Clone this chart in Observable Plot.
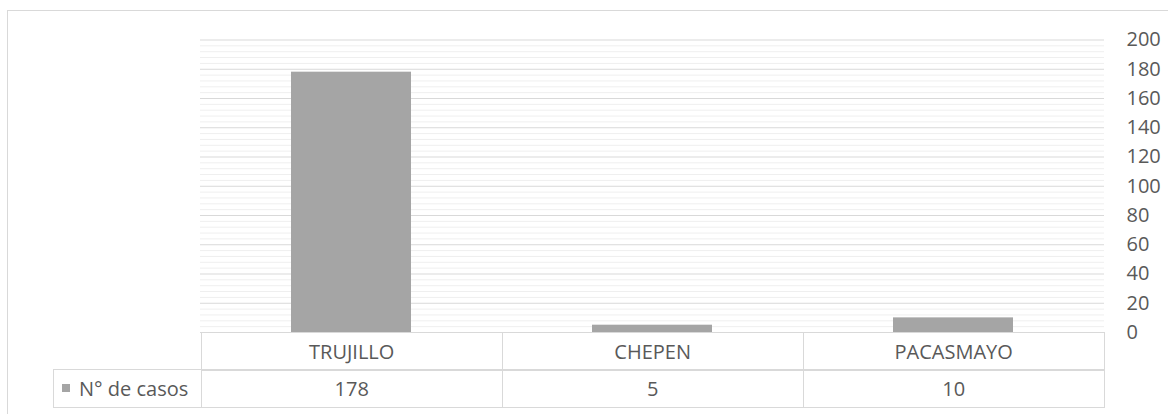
<!DOCTYPE html>
<html><head><meta charset="utf-8">
<script src="https://cdn.jsdelivr.net/npm/d3@7"></script>
<script src="https://cdn.jsdelivr.net/npm/@observablehq/plot@0.6"></script>
<style>
body{margin:0;background:#fff;overflow:hidden;font-family:"Open Sans",sans-serif;color:#595959}
#wrap{position:relative;width:1168px;height:414px;overflow:hidden;background:#fff}
#frame{position:absolute;left:7px;top:10px;width:1300px;height:600px;border:1px solid #d9d9d9;box-sizing:border-box}
#chart{position:absolute;left:0;top:0}
.cell{position:absolute;box-sizing:border-box;border:1px solid #d9d9d9;display:flex;align-items:center;justify-content:center;font-size:20px;color:#595959;white-space:nowrap}
.legend{justify-content:flex-start;padding-left:8px}
.sw{display:inline-block;width:8px;height:8px;background:#a5a5a5;margin-right:9px}
</style></head>
<body>
<div id="wrap"><div id="frame"></div><div id="chart"></div></div>
<script>
const categories = ["TRUJILLO", "CHEPEN", "PACASMAYO"];
const values = [178, 5, 10];
const seriesName = "N° de casos";
const majorTicks = [0, 20, 40, 60, 80, 100, 120, 140, 160, 180, 200];
const minorTicks = d3.range(0, 201, 4).filter(v => v % 20 !== 0);

const data = categories.map((c, i) => ({cat: c, val: values[i]}));

const chart = Plot.plot({
  width: 1168,
  height: 352,
  marginTop: 39.5,
  marginBottom: 20,
  marginLeft: 200,
  marginRight: 64,
  style: {fontFamily: "Open Sans, sans-serif", fontSize: "20px", color: "#595959", background: "transparent"},
  x: {domain: categories, paddingInner: 0.6, paddingOuter: 0.3, axis: null},
  y: {domain: [0, 200], axis: null},
  marks: [
    Plot.ruleY(minorTicks, {stroke: "#efefef", strokeWidth: 1}),
    Plot.ruleY(majorTicks, {stroke: "#d9d9d9", strokeWidth: 1}),
    Plot.barY(data, {x: "cat", y: "val", fill: "#a5a5a5"}),
    Plot.axisY({anchor: "right", ticks: majorTicks, tickSize: 0, tickPadding: 22, textAnchor: "start", fill: "#595959", fontSize: 20, label: null})
  ]
});
document.getElementById("chart").appendChild(chart);

const xs = chart.scale("x");
const step = xs.step;
const wrap = document.getElementById("wrap");
function cell(left, top, w, h, html, cls) {
  const d = document.createElement("div");
  d.className = "cell" + (cls ? " " + cls : "");
  d.style.left = left + "px"; d.style.top = top + "px";
  d.style.width = w + "px"; d.style.height = h + "px";
  d.innerHTML = html;
  wrap.appendChild(d);
  return d;
}
const row1 = 331.5, row2 = 369, rowH = 38.5;
categories.forEach((c, i) => {
  const x0 = xs.apply(c) - xs.paddingInner * step / 2;
  cell(x0, row1, step + 1, rowH + 0.5, c);
  cell(x0, row2, step + 1, rowH, String(values[i]));
});
const firstEdge = xs.apply(categories[0]) - xs.paddingInner * step / 2;
cell(53, row2, firstEdge - 53 + 1, rowH, '<span class="sw"></span>' + seriesName, "legend");
</script>
</body></html>
